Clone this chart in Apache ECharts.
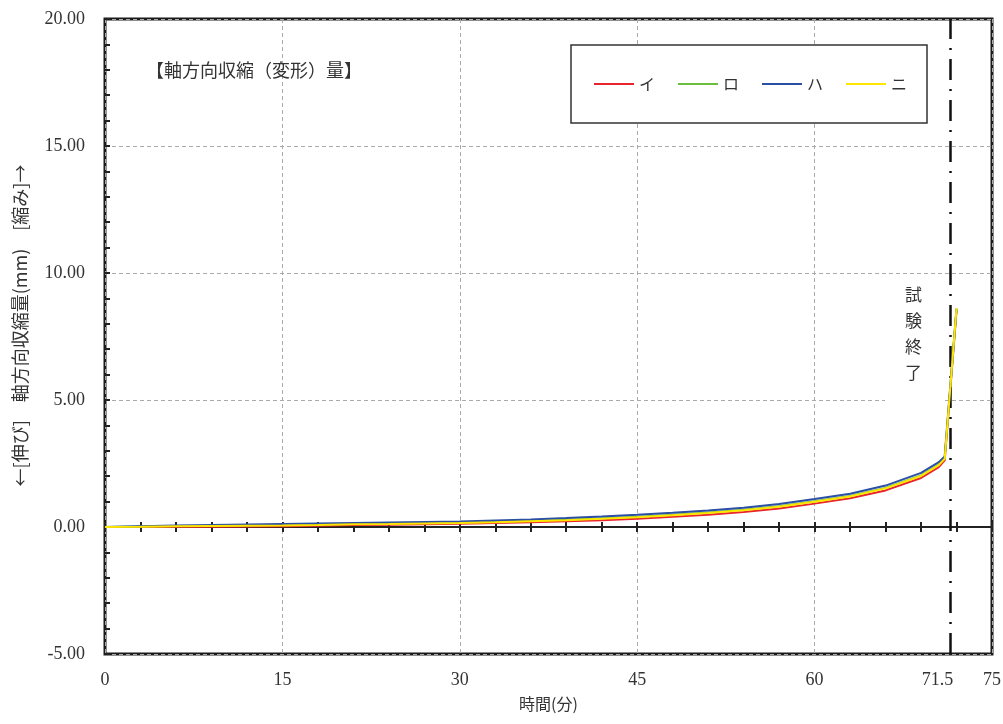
<!DOCTYPE html>
<html>
<head>
<meta charset="utf-8">
<script src="https://cdn.jsdelivr.net/npm/echarts@6/dist/echarts.min.js"></script>
<style>
  html, body { margin: 0; padding: 0; background: #fff; }
  #chart { width: 1003px; height: 724px; }
</style>
</head>
<body>
<div id="chart"></div>
<script>
// Elapsed time (min) at each reading
const times = [0, 3, 6, 9, 12, 15, 18, 21, 24, 27, 30, 33, 36, 39, 42, 45, 48, 51, 54, 57, 60, 63, 66, 69, 70.5, 71, 72];

// Axial shrinkage (mm) per specimen
const seriesI  = [0.00, 0.00, 0.01, 0.01, 0.02, 0.03, 0.05, 0.08, 0.09, 0.11, 0.13, 0.16, 0.19, 0.23, 0.27, 0.32, 0.40, 0.48, 0.59, 0.73, 0.92, 1.13, 1.44, 1.93, 2.36, 2.62, 8.52];
const seriesRo = [0.00, 0.02, 0.04, 0.05, 0.07, 0.08, 0.10, 0.12, 0.14, 0.16, 0.18, 0.21, 0.25, 0.29, 0.34, 0.40, 0.48, 0.57, 0.68, 0.82, 1.01, 1.22, 1.54, 2.03, 2.46, 2.70, 8.58];
const seriesHa = [0.00, 0.03, 0.06, 0.08, 0.10, 0.12, 0.14, 0.16, 0.18, 0.20, 0.22, 0.26, 0.30, 0.35, 0.41, 0.48, 0.56, 0.65, 0.76, 0.91, 1.10, 1.31, 1.63, 2.13, 2.55, 2.78, 8.60];
const seriesNi = [0.00, 0.01, 0.03, 0.04, 0.05, 0.06, 0.08, 0.11, 0.12, 0.14, 0.16, 0.19, 0.23, 0.27, 0.32, 0.38, 0.46, 0.55, 0.66, 0.80, 0.99, 1.20, 1.52, 2.01, 2.44, 2.68, 8.62];

const seriesNames = ['イ', 'ロ', 'ハ', 'ニ'];
const seriesValues = [seriesI, seriesRo, seriesHa, seriesNi];
const seriesColors = ['#e8242c', '#6abf3e', '#2b4fa3', '#ffe600'];

// x-axis labels, end-of-test time
const xLabelValues = [0, 15, 30, 45, 60, 71.5, 75];
const testEnd = 71.5;

const serif = '"Liberation Serif", "Noto Sans CJK JP", serif';
const jp = '"Noto Sans CJK JP", sans-serif';

const chart = echarts.init(document.getElementById('chart'), null, { renderer: 'canvas' });

const lineSeries = seriesNames.map((name, i) => ({
  name: name,
  type: 'line',
  xAxisIndex: 0,
  yAxisIndex: 0,
  data: times.map((t, k) => [t, seriesValues[i][k]]),
  showSymbol: false,
  symbol: 'none',
  lineStyle: { color: seriesColors[i], width: 2 },
  itemStyle: { color: seriesColors[i] },
  z: 3 + i,
  animation: false
}));

// dash-dot marker for the end of the test
lineSeries[0].markLine = {
  silent: true,
  symbol: ['none', 'none'],
  label: { show: false },
  lineStyle: { color: '#111', width: 2.5, type: [21, 9, 2, 9] },
  data: [{ xAxis: testEnd }],
  animation: false
};

const zeroAxisBase = {
  type: 'value',
  min: 0,
  max: 75,
  interval: 3,
  position: 'bottom',
  axisLine: { show: true, onZero: true, onZeroAxisIndex: 0, lineStyle: { color: '#222', width: 2 } },
  axisLabel: { show: false },
  splitLine: { show: false }
};

const option = {
  backgroundColor: '#fff',
  animation: false,
  grid: {
    left: 105, right: 11, top: 19, bottom: 70,
    containLabel: false,
    outerBoundsMode: 'none',
    show: true,
    backgroundColor: 'transparent',
    borderColor: '#1a1a1a',
    borderWidth: 3
  },
  title: {
    text: '【軸方向収縮（変形）量】',
    left: 141,
    top: 56,
    textStyle: { fontFamily: jp, fontSize: 18, fontWeight: 'normal', color: '#333' }
  },
  legend: {
    left: 571,
    top: 45,
    orient: 'horizontal',
    icon: 'rect',
    itemWidth: 40,
    itemHeight: 2,
    itemGap: 23,
    padding: [31, 20, 31, 23],
    backgroundColor: '#fff',
    borderColor: '#333',
    borderWidth: 1.5,
    borderRadius: 0,
    textStyle: { fontFamily: jp, fontSize: 16, color: '#333' },
    data: seriesNames
  },
  xAxis: [
    {
      type: 'value',
      min: 0,
      max: 75,
      interval: 15,
      position: 'bottom',
      name: '時間(分)',
      nameLocation: 'middle',
      nameGap: 42,
      nameTextStyle: { fontFamily: jp, fontSize: 16, color: '#333' },
      axisLine: { show: false, onZero: false },
      axisTick: { show: false },
      axisLabel: {
        show: true,
        customValues: xLabelValues,
        margin: 17,
        fontFamily: serif,
        fontSize: 18,
        color: '#333',
        formatter: v => (v === testEnd ? '{s|71.5}' : String(v)),
        rich: { s: { fontFamily: serif, fontSize: 18, color: '#333', padding: [0, 26, 0, 0] } }
      },
      splitLine: { show: true, lineStyle: { color: '#aaa', width: 1, type: [4, 3] } }
    },
    Object.assign({}, zeroAxisBase, {
      axisTick: { show: true, inside: true, length: 5, lineStyle: { color: '#222', width: 2 } }
    }),
    Object.assign({}, zeroAxisBase, {
      axisTick: { show: true, inside: false, length: 5, lineStyle: { color: '#222', width: 2 } }
    })
  ],
  yAxis: [
    {
      type: 'value',
      min: -5,
      max: 20,
      interval: 5,
      position: 'left',
      name: '←[伸び]　軸方向収縮量(mm)　[縮み]→',
      nameLocation: 'middle',
      nameRotate: 90,
      nameGap: 76,
      nameTextStyle: { fontFamily: jp, fontSize: 18, color: '#333', padding: [0, 0, 0, 22] },
      axisLine: { show: false, onZero: false },
      axisTick: { show: true, inside: true, length: 5, lineStyle: { color: '#222', width: 2 } },
      minorTick: { show: true, splitNumber: 5, length: 5, lineStyle: { color: '#222', width: 2 } },
      axisLabel: {
        margin: 20,
        fontFamily: serif,
        fontSize: 18,
        color: '#333',
        formatter: v => v.toFixed(2)
      },
      splitLine: { show: true, lineStyle: { color: '#aaa', width: 1, type: [4, 3] } }
    }
  ],
  graphic: [
    {
      type: 'text',
      left: 885,
      top: 278,
      z: 10,
      style: {
        text: '試\n験\n終\n了',
        font: '17px "Noto Sans CJK JP", sans-serif',
        lineHeight: 26,
        fill: '#333',
        align: 'center',
        backgroundColor: '#fff',
        padding: [4, 20, 20, 20]
      }
    }
  ],
  series: lineSeries
};

chart.setOption(option);
</script>
</body>
</html>
